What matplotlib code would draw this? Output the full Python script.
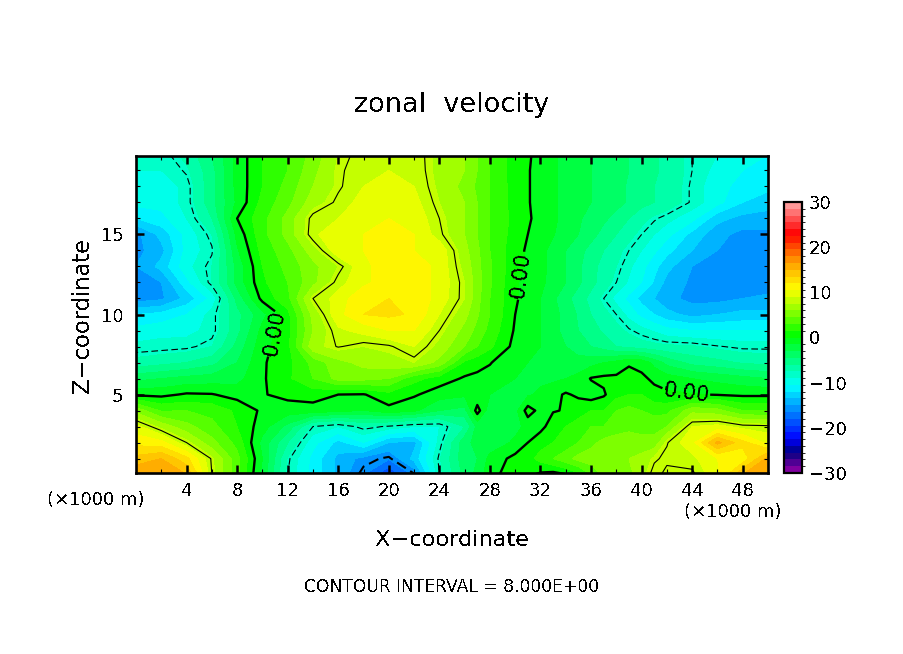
import numpy as np
import matplotlib
matplotlib.use('Agg')
import matplotlib.pyplot as plt
from matplotlib.colors import LinearSegmentedColormap, BoundaryNorm

x_km = [0, 2, 4, 6, 8, 10, 12, 14, 16, 18, 20, 22, 24, 26, 27, 28, 30, 31, 32, 33, 34,
        35, 36, 37, 38, 39, 40, 41, 42, 44, 46, 48, 50]
z_km = [0, 1, 2, 3, 4, 5, 6, 7, 8, 9, 10, 11, 12, 13, 14, 15, 16, 17, 18, 19, 20]

# zonal velocity, one row per z level, bottom row first
u_rows = [
    [16.5, 16.5, 15, 8, 3.5, -2, -8, -11, -14, -16.5, -19.5, -16.2, -8, -4, -2.5, -0.5, 0.8, 0.3, -0.3, -0.6, -0.1, 1, 3, 5, 5, 5.5, 7, 8.5, 7.6, 7.7, 10, 15, 16.5],
    [14, 15, 12.5, 7.8, 3.5, -1.5, -7.7, -11, -14, -15.5, -16.3, -13, -7.7, -3.5, -3, -1, 0.5, 1, 2, 3, 4, 5, 5.5, 6, 6, 6, 6.5, 7.8, 8.3, 8.6, 10.5, 11, 15.5],
    [11.5, 11, 8, 5, 2.5, -2, -6, -10, -12.5, -10.5, -13.5, -14, -8.5, -3.5, -2.5, -2.5, -1.2, 0, 1, 1.5, 2, 3, 4, 5, 5, 5.5, 5, 5, 7.9, 10, 15.5, 12.5, 10],
    [9.5, 7, 5, 3.5, 1.5, -0.8, -3.5, -8, -9, -7.5, -8.2, -9, -9, -6, -2.5, -3, -2, -1, -0.5, 0.8, 1.5, 2, 3, 3, 4, 4, 4, 4, 4.5, 9, 9.5, 8.5, 8.3],
    [5.5, 2.8, 3, 2.5, 1.2, -0.3, -0.7, -0.6, -1, -1.5, -0.5, -1.2, -3, -3.5, 0.7, -2.5, -2, 0.7, -0.5, -0.1, 0.1, 1, 1.5, 1.5, 3, 3.5, 3, 2.5, 2.5, 5.5, 5, 3, 3],
    [-0.3, -0.4, 0.2, 0.1, -0.6, -0.1, 0.4, 0.6, 0, -0.1, 1, 0.2, -0.8, -1.2, -1.3, -1.5, -2, -1.7, -1.2, -0.5, 0.2, -0.3, -0.8, -0.2, 1, 1.5, 1.5, 0.5, 0.3, 0.1, -0.1, -0.3, -0.3],
    [-3.5, -3, -2.5, -2.3, -2, -0.2, 1.2, 3, 5, 5, 4.5, 2, 0.8, -0.2, -0.4, -0.6, -1.5, -1.6, -1.8, -1.8, -1.5, -1, 0.1, 0.3, 0.3, 0.6, 0.3, -0.3, -0.8, -1.5, -2, -2.5, -3],
    [-7, -6.5, -6, -5, -3, -0.2, 1, 3.5, 5.5, 6.5, 7, 7.5, 5.5, 1.2, 0.6, 0.1, -1.2, -1.5, -2, -2.2, -2.5, -2.5, -2, -1.5, -1, -0.2, -0.5, -2, -3.5, -5, -5.5, -6.2, -6.5],
    [-8.6, -8.5, -8.3, -7.5, -4, -0.5, 1, 7, 8.1, 7.5, 7.8, 9, 7, 4.5, 3, 1.8, -0.5, -1, -1.5, -2.2, -3, -3.7, -4.5, -5.2, -6, -6.4, -6.8, -7, -7.2, -7.3, -7.9, -8.3, -8.3],
    [-10, -9.5, -9.5, -8.5, -5, -1, 1, 6, 8.7, 9.5, 10.5, 10.5, 8, 5.5, 4, 2.5, -0.2, -0.8, -1.5, -2.5, -3.5, -4.5, -5.5, -6.2, -7, -7.8, -8.5, -9.2, -10, -10.5, -10.5, -10.5, -10.5],
    [-12, -11.5, -10.5, -8.5, -5, -2, 1, 6.5, 10, 12, 12.3, 11.8, 9, 6.5, 4.7, 3, 0, -0.7, -1.5, -2.5, -3.5, -4.7, -6, -7, -8, -9.5, -11, -12, -13, -14, -13.5, -13, -13],
    [-15.8, -15.3, -13, -10, -4, 0.5, 2.5, 8, 9.5, 12, 12, 11.8, 9.8, 7.5, 5, 3, 0.2, -0.6, -1.5, -2.7, -4, -5.2, -6.5, -8, -9.5, -11, -12.5, -13.5, -14.5, -15.5, -15.5, -15, -14.8],
    [-15.8, -15, -11, -7.5, -2.5, 1.2, 3, 5.5, 8.5, 10, 11.5, 11.5, 10, 7.5, 5.2, 3.2, 0.2, -0.5, -1.2, -2, -3, -4.2, -5.5, -6.7, -8, -9.2, -10.5, -12.2, -14, -15.3, -15.7, -15.7, -15.5],
    [-15, -13, -9.5, -7.5, -2.5, 1.5, 3.5, 5.5, 7.5, 10, 11.5, 11.5, 10, 7, 5, 3.2, 0.5, -0.2, -1, -2, -3, -4.2, -5.5, -6.5, -7.5, -8.7, -10, -11.5, -13, -15, -15.7, -15.7, -15.7],
    [-15.5, -14, -10, -8.2, -1.7, 2, 4, 6.8, 10, 10.5, 11, 10.5, 10, 6.5, 4.8, 3, 0.5, -0.2, -1, -2, -3, -4, -5, -6, -7, -8, -9, -10.2, -11.5, -13.5, -15, -15.5, -15.7],
    [-15.5, -13, -10, -7.5, -1, 2.5, 5, 8.7, 10, 10.5, 11, 10.5, 8.3, 6, 4.5, 3, 0.8, 0, -0.7, -1.4, -2.2, -3, -4, -5, -6, -7, -8, -9, -10, -12.5, -14.5, -15.5, -15.5],
    [-12, -11, -9, -6, 0, 2.5, 5, 8.5, 9, 10, 10.5, 10, 8, 6, 4.5, 3, 1, 0.2, -0.5, -1.2, -2, -2.8, -3.5, -4.2, -5, -6, -7, -7.8, -8.5, -10, -13, -14, -14],
    [-10, -10, -8.5, -5, -1.2, 2, 4, 6.8, 8.3, 9.5, 10, 9.5, 7.5, 6, 4.5, 3, 0.8, 0.1, -0.5, -1.2, -2, -2.5, -3, -3.5, -4, -4.7, -5.5, -6, -6.5, -8.2, -10, -12, -13],
    [-9.5, -10, -8.5, -5, -1, 1.5, 3.5, 6, 7.8, 9, 9.5, 9, 7.2, 5.5, 4.2, 3, 0.8, 0.1, -0.5, -1.2, -2, -2.5, -3, -3.5, -4, -4.7, -5.5, -6, -6.5, -8.2, -10, -11, -11.5],
    [-9, -9, -7.8, -5, -1, 1.5, 3, 5.5, 7.8, 8.6, 9, 8.8, 7, 6, 4.5, 3, 0.7, 0.1, -0.5, -1.2, -2, -2.5, -3, -3.5, -4, -4.5, -5, -5.7, -6.5, -8, -9.5, -10.5, -11],
    [-8, -8.5, -7, -4.5, -1, 1.5, 3, 5, 7.5, 8.5, 9, 8.7, 7, 6, 4.5, 3, 0.8, 0.2, -0.5, -1.2, -2, -2.5, -3, -3.5, -4, -4.5, -5, -5.7, -6.5, -8, -9, -10, -10.5],
]

# colour bar anchors
bar_values = [-30, -26, -23, -20, -15.5, -11, -5, 0.5, 5.5, 11, 17, 21, 23.5, 27, 30]
bar_colors = ['#8000a0', '#000080', '#0000ff', '#0040ff', '#00a0ff', '#00ffff', '#00ff80',
              '#00ff00', '#80ff00', '#ffff00', '#ffa000', '#ff4000', '#ff0000', '#ff5050', '#ff9898']
bar_ticks = [-30, -20, -10, 0, 10, 20, 30]

plt.rcParams['font.family'] = 'DejaVu Sans'
plt.rcParams['text.antialiased'] = False

W, H = 904, 654
fig = plt.figure(figsize=(W / 100, H / 100), dpi=100)


def px_axes(left, top, right, bottom):
    return fig.add_axes([left / W, 1 - bottom / H, (right - left) / W, (bottom - top) / H])


ax = px_axes(136, 156, 768, 473)
U = np.array(u_rows)

anchors = [(v + 30) / 60 for v in bar_values]
cmap = LinearSegmentedColormap.from_list('band', list(zip(anchors, bar_colors)), N=40)
levels = np.linspace(-30, 30, 41)
norm = BoundaryNorm(levels, 40)

cf = ax.contourf(x_km, z_km, U, levels=levels, cmap=cmap, norm=norm, antialiased=False)
ax.contour(x_km, z_km, U, levels=[-16], colors='k', linewidths=1.5, linestyles=[(0, (5, 2.5))])
ax.contour(x_km, z_km, U, levels=[-8], colors='k', linewidths=0.8, linestyles=[(0, (6, 3))])
ax.contour(x_km, z_km, U, levels=[8], colors='k', linewidths=0.8, linestyles='solid')
cs0 = ax.contour(x_km, z_km, U, levels=[0], colors='k', linewidths=1.7, linestyles='solid')
ax.clabel(cs0, fmt='%.2f', fontsize=15, inline=True, inline_spacing=1,
          manual=[(10.7, 8.9), (30.2, 12.5), (43.5, 5.0)])

ax.set_xlim(0, 50)
ax.set_ylim(0.1, 19.9)
ax.set_xticks(np.arange(4, 49, 4))
ax.set_xticks(np.arange(2, 50, 2), minor=True)
ax.set_yticks([5, 10, 15])
ax.set_yticks(np.arange(1, 20, 1), minor=True)
ax.tick_params(which='major', direction='in', top=True, right=True, length=6, width=1.8,
               labelsize=13, pad=6.5)
ax.tick_params(axis='y', which='major', pad=9)
ax.tick_params(which='minor', direction='in', top=True, right=True, length=3, width=0.8)
for spine in ax.spines.values():
    spine.set_linewidth(1.9)

cax = px_axes(784, 202, 802, 473)
cb = fig.colorbar(cf, cax=cax, ticks=bar_ticks, spacing='proportional', drawedges=False)
cb.ax.set_yticklabels(['\u2212' + str(-t) if t < 0 else str(t) for t in bar_ticks])
cb.ax.tick_params(length=0, labelsize=13, pad=5)
cb.outline.set_linewidth(1.6)

fig.text(452 / W, 1 - 105 / H, 'zonal  velocity', ha='center', va='center', fontsize=19.5)
fig.text(452 / W, 1 - 540 / H, 'X\u2212coordinate', ha='center', va='center', fontsize=16.2)
fig.text(83 / W, 1 - 315 / H, 'Z\u2212coordinate', ha='center', va='center', rotation=90, fontsize=16.3)
fig.text(96 / W, 1 - 500 / H, '(\u00d71000 m)', ha='center', va='center', fontsize=13)
fig.text(733 / W, 1 - 512 / H, '(\u00d71000 m)', ha='center', va='center', fontsize=13)
fig.text(452 / W, 1 - 587 / H, 'CONTOUR INTERVAL = 8.000E+00', ha='center', va='center', fontsize=12.3)

fig.savefig('out.png', dpi=100)
